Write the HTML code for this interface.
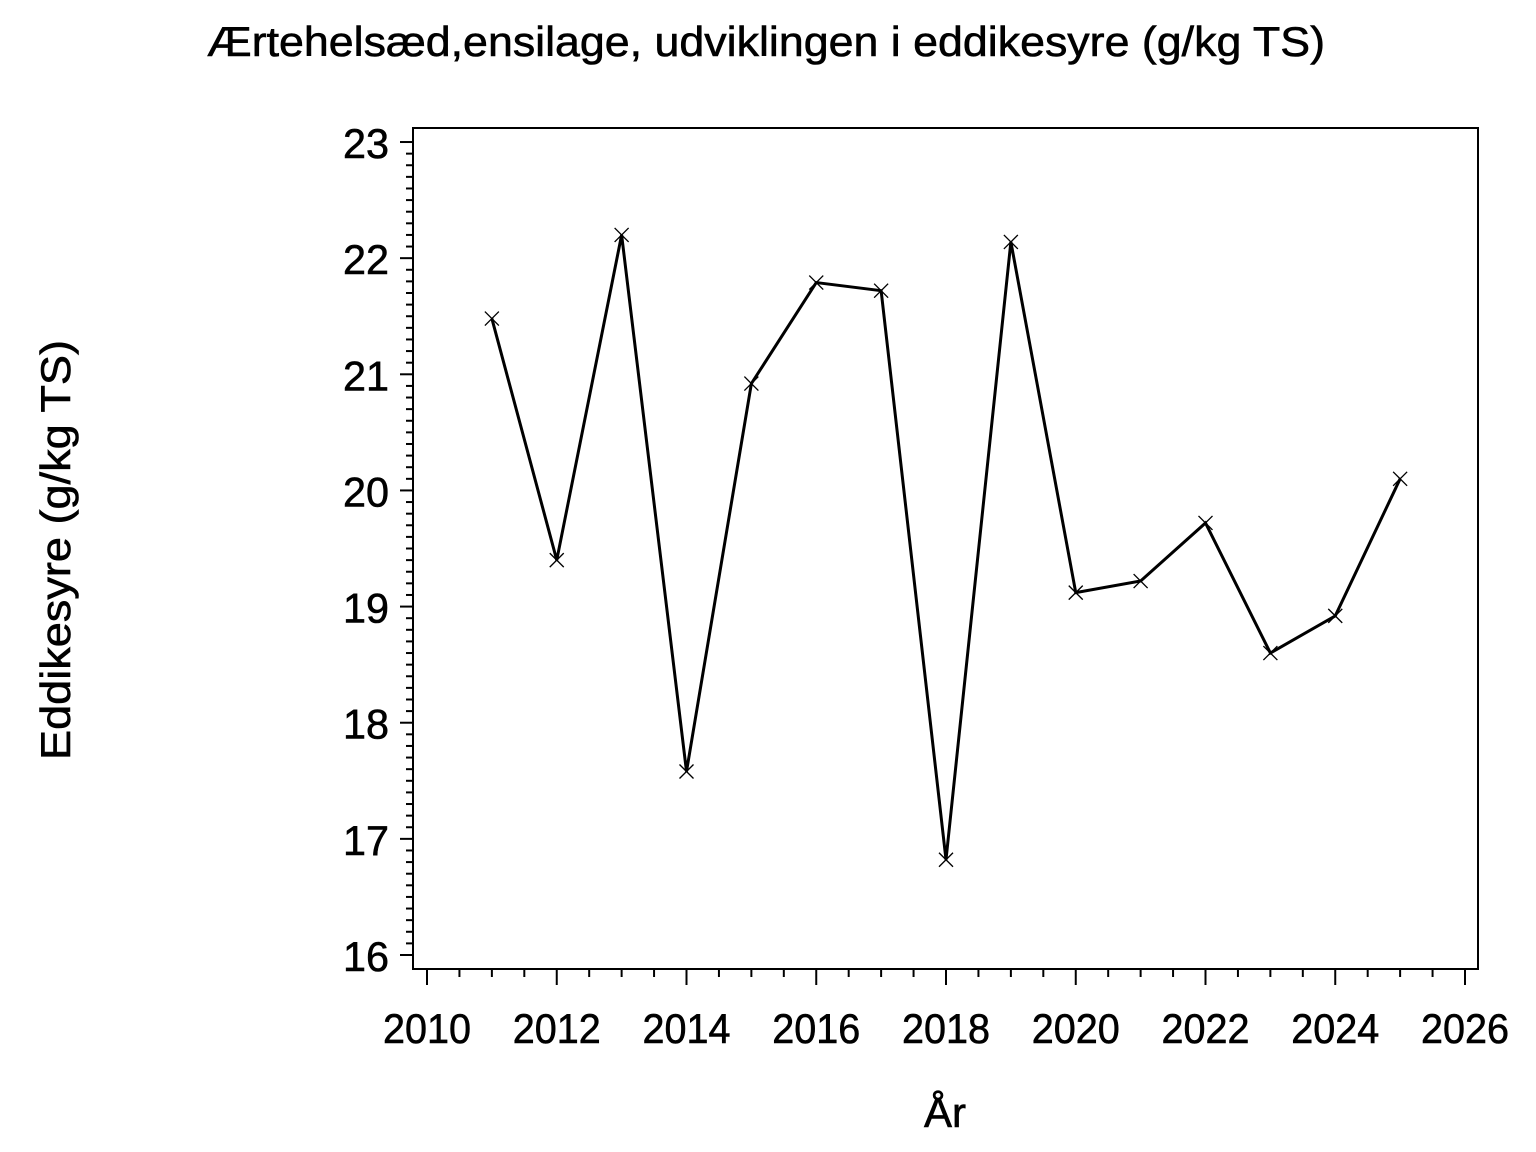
<!DOCTYPE html>
<html><head><meta charset="utf-8"><style>body{margin:0;background:#fff}svg{display:block}</style></head>
<body>
<svg id="s" width="1536" height="1152" xmlns="http://www.w3.org/2000/svg" font-family="Liberation Sans, Arial, sans-serif">
<rect width="1536" height="1152" fill="#fff"/>
<text x="207" y="56" font-size="42" textLength="1118" lengthAdjust="spacingAndGlyphs" stroke="#000" stroke-width="0.6">Ærtehelsæd,ensilage,  udviklingen  i  eddikesyre  (g/kg  TS)</text>
<rect x="413" y="128" width="1065" height="841" fill="none" stroke="#000" stroke-width="2"/>
<g id="ticks" stroke="#000" stroke-width="2"></g>
<g id="lab" font-size="42" fill="#000" stroke="#000" stroke-width="0.6"></g>
<text x="945" y="1127" font-size="42" text-anchor="middle" stroke="#000" stroke-width="0.6">År</text>
<text transform="translate(70,760) rotate(-90)" font-size="42" textLength="420" lengthAdjust="spacingAndGlyphs" stroke="#000" stroke-width="0.6">Eddikesyre  (g/kg  TS)</text>
<polyline id="line" fill="none" stroke="#000" stroke-width="3" stroke-linejoin="miter"/>
<g id="mk" stroke="#000" stroke-width="1.3"></g>
</svg>
<script>
var NS="http://www.w3.org/2000/svg";
function el(p,n,a,t){var e=document.createElementNS(NS,n);for(var k in a)e.setAttribute(k,a[k]);if(t)e.textContent=t;document.getElementById(p).appendChild(e);}
function Y(v){return 955-(v-16)*116.14;}
function X(v){return 427+(v-2010)*64.875;}
for(var i=0;i<=70;i++){var y=Y(16+i/10);el("ticks","line",{x1:i%10==0?400:406,x2:413,y1:y,y2:y});}
for(var v=16;v<=23;v++)el("lab","text",{x:389,y:Y(v)+16,"text-anchor":"end",textLength:46,lengthAdjust:"spacingAndGlyphs"},v);
for(var i=0;i<=32;i++){var x=X(2010+i/2);el("ticks","line",{x1:x,x2:x,y1:969,y2:i%4==0?985:977});}
for(var v=2010;v<=2026;v+=2)el("lab","text",{x:X(v)-44,y:1043,textLength:88,lengthAdjust:"spacingAndGlyphs"},v);
var d=[21.48,19.4,22.2,17.58,20.92,21.79,21.72,16.82,22.14,19.12,19.22,19.72,18.6,18.92,20.1];
var pts=[];
d.forEach(function(v,i){var x=X(2011+i),y=Y(v);pts.push(x+","+y);
el("mk","line",{x1:x-7,y1:y-7,x2:x+7,y2:y+7});el("mk","line",{x1:x-7,y1:y+7,x2:x+7,y2:y-7});});
document.getElementById("line").setAttribute("points",pts.join(" "));
</script>
</body></html>
